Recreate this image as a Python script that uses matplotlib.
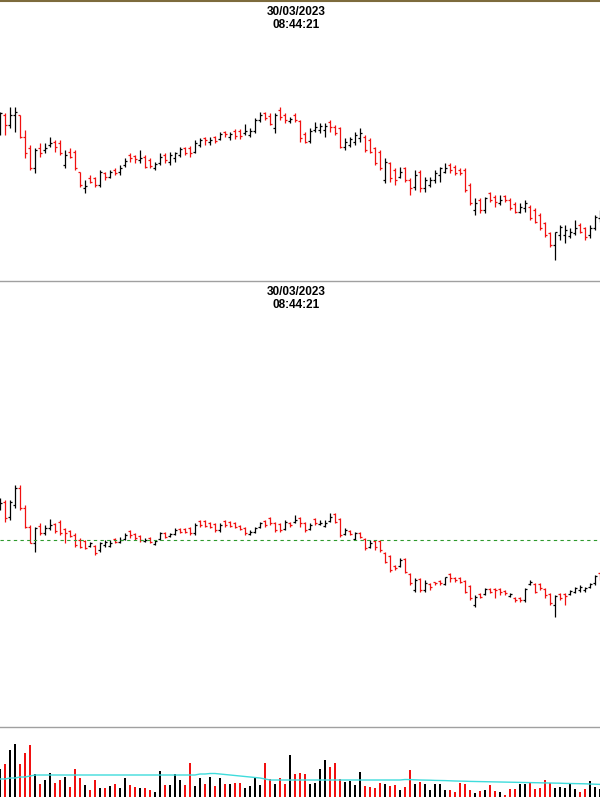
import matplotlib
matplotlib.use("Agg")
import matplotlib.pyplot as plt
import numpy as np

stamp = "30/03/2023\n08:44:21"

# upper chart (price units)
top_open = [170, 185, 175, 185, 185, 163, 152, 132, 152, 150, 155, 158, 157, 135, 148, 148, 128, 112, 122, 122,
            115, 127, 123, 130, 128, 135, 145, 144, 140, 143, 140, 132, 137, 145, 138, 142, 145, 152, 152, 148,
            155, 162, 158, 163, 161, 168, 163, 169, 169, 167, 165, 169, 180, 187, 184, 172, 190, 185, 179, 185,
            179, 166, 159, 170, 170, 170, 178, 173, 172, 153, 155, 158, 162, 163, 160, 152, 148, 120, 137, 130,
            123, 132, 120, 113, 128, 112, 115, 120, 125, 128, 135, 133, 130, 130, 115, 90, 100, 90, 107, 103,
            97, 104, 100, 96, 88, 92, 93, 90, 85, 77, 67, 55, 65, 65, 64, 67, 75, 72, 65, 72, 82]
top_high = [188, 187, 193, 193, 185, 170, 155, 152, 157, 157, 163, 160, 160, 150, 152, 150, 128, 120, 125, 123,
            130, 128, 130, 132, 135, 142, 147, 145, 150, 145, 142, 138, 147, 147, 148, 148, 153, 153, 154, 160,
            162, 163, 163, 164, 168, 169, 168, 171, 171, 176, 172, 182, 188, 188, 187, 187, 193, 187, 183, 187,
            180, 168, 172, 178, 177, 177, 180, 175, 173, 162, 163, 168, 172, 165, 162, 153, 150, 142, 138, 132,
            133, 133, 122, 130, 130, 123, 123, 130, 133, 137, 137, 135, 132, 132, 117, 102, 102, 103, 108, 105,
            105, 105, 102, 98, 97, 100, 95, 92, 87, 78, 68, 68, 75, 75, 72, 80, 77, 73, 75, 85, 90]
top_low = [165, 165, 172, 168, 162, 142, 130, 127, 143, 147, 153, 148, 145, 132, 142, 130, 113, 107, 117, 113,
           113, 120, 122, 125, 125, 133, 138, 137, 137, 132, 132, 130, 135, 137, 135, 138, 143, 145, 143, 147,
           153, 155, 155, 157, 160, 163, 160, 161, 161, 165, 163, 167, 178, 180, 175, 167, 180, 177, 177, 178,
           158, 157, 157, 168, 167, 163, 168, 165, 152, 150, 153, 155, 158, 148, 147, 135, 130, 117, 118, 115,
           122, 118, 105, 110, 108, 108, 113, 117, 118, 127, 127, 125, 125, 108, 95, 85, 87, 87, 98, 93,
           95, 98, 90, 87, 87, 88, 80, 77, 70, 63, 53, 40, 60, 57, 62, 65, 67, 60, 62, 70, 78]
top_close = [187, 175, 185, 188, 163, 147, 132, 150, 147, 152, 157, 153, 147, 145, 143, 132, 115, 114, 118, 115,
             128, 123, 128, 127, 132, 139, 142, 141, 142, 133, 134, 136, 143, 140, 145, 147, 151, 147, 147, 157,
             160, 160, 160, 159, 166, 166, 166, 164, 164, 169, 169, 180, 185, 182, 176, 185, 183, 180, 181, 180,
             162, 158, 169, 173, 174, 174, 173, 167, 153, 158, 161, 165, 167, 150, 148, 137, 132, 138, 122, 120,
             128, 120, 112, 125, 112, 120, 120, 127, 132, 132, 130, 127, 127, 110, 97, 97, 90, 102, 100, 98,
             100, 100, 92, 88, 93, 97, 82, 78, 72, 65, 55, 68, 73, 70, 68, 72, 68, 63, 72, 83, 88]

# lower chart
mid_open = [242, 248, 233, 245, 262, 242, 223, 207, 224, 217, 222, 226, 228, 221, 219, 215, 210, 209, 204, 204,
            200, 205, 204, 211, 208, 211, 219, 216, 214, 209, 212, 206, 211, 217, 214, 216, 221, 221, 222, 217,
            229, 229, 227, 226, 220, 229, 228, 227, 224, 222, 216, 218, 223, 229, 232, 227, 226, 221, 227, 228,
            232, 227, 221, 231, 226, 224, 229, 236, 231, 216, 219, 211, 217, 211, 203, 209, 209, 197, 194, 184,
            184, 191, 176, 160, 171, 160, 166, 168, 169, 166, 176, 172, 172, 169, 164, 145, 156, 156, 161, 161,
            161, 159, 154, 152, 152, 150, 166, 166, 166, 161, 156, 145, 156, 156, 156, 158, 160, 160, 163, 167, 177]
mid_high = [252, 250, 250, 265, 265, 245, 225, 223, 227, 225, 231, 227, 230, 222, 220, 217, 212, 210, 208, 205,
            208, 210, 210, 212, 213, 217, 220, 217, 215, 212, 213, 210, 218, 218, 217, 222, 222, 222, 223, 227,
            230, 230, 228, 227, 227, 230, 229, 228, 225, 223, 220, 223, 228, 230, 233, 228, 227, 230, 228, 235,
            233, 228, 227, 232, 230, 230, 237, 237, 232, 222, 220, 218, 218, 212, 210, 210, 210, 198, 195, 185,
            192, 192, 177, 172, 172, 170, 167, 168, 170, 173, 177, 173, 173, 170, 165, 155, 157, 162, 162, 162,
            162, 160, 157, 153, 153, 162, 170, 167, 167, 162, 157, 155, 157, 157, 160, 163, 165, 163, 167, 175, 178]
mid_low = [240, 228, 230, 242, 240, 222, 207, 198, 215, 215, 220, 217, 215, 207, 213, 203, 202, 201, 203, 195,
           198, 203, 203, 207, 207, 210, 212, 210, 208, 208, 207, 205, 210, 212, 213, 215, 217, 217, 215, 215,
           223, 223, 222, 218, 218, 223, 223, 222, 220, 215, 215, 217, 222, 223, 225, 218, 218, 220, 223, 227,
           223, 218, 220, 225, 225, 223, 228, 227, 213, 215, 215, 210, 212, 200, 202, 200, 198, 187, 178, 180,
           183, 177, 165, 158, 158, 158, 160, 165, 165, 165, 168, 168, 167, 157, 150, 143, 152, 155, 157, 152,
           155, 155, 153, 148, 148, 148, 165, 157, 160, 152, 145, 133, 150, 145, 155, 157, 158, 158, 162, 165, 170]
mid_close = [247, 232, 248, 262, 242, 223, 207, 222, 217, 222, 225, 219, 217, 217, 214, 205, 203, 202, 207, 197,
             207, 208, 207, 208, 210, 215, 215, 212, 210, 210, 208, 209, 217, 213, 216, 220, 218, 218, 217, 225,
             225, 224, 223, 220, 225, 225, 224, 223, 221, 217, 218, 222, 227, 225, 227, 220, 220, 228, 225, 230,
             227, 220, 225, 227, 227, 227, 233, 228, 215, 220, 216, 217, 213, 202, 207, 203, 200, 188, 180, 182,
             190, 178, 167, 170, 160, 167, 163, 167, 167, 173, 172, 170, 168, 158, 152, 153, 153, 161, 158, 160,
             158, 157, 156, 150, 150, 161, 168, 158, 162, 155, 147, 154, 152, 154, 159, 162, 163, 162, 166, 174, 174]
mid_level = 210

# volume pane
volume = [28, 33, 47, 53, 33, 44, 52, 23, 13, 17, 24, 14, 17, 20, 10, 28, 19, 12, 7, 17,
          9, 9, 11, 13, 9, 19, 12, 10, 9, 9, 7, 5, 26, 12, 12, 23, 17, 12, 34, 11,
          19, 13, 20, 11, 19, 13, 13, 14, 14, 9, 11, 19, 12, 34, 18, 13, 19, 13, 42, 23,
          24, 23, 13, 14, 28, 37, 30, 34, 18, 15, 16, 12, 25, 11, 10, 9, 14, 13, 11, 12,
          7, 10, 27, 13, 15, 13, 7, 13, 13, 7, 7, 5, 14, 13, 7, 4, 6, 7, 12, 6,
          5, 2, 8, 8, 13, 13, 15, 8, 9, 17, 14, 9, 10, 9, 14, 8, 5, 8, 16, 10, 8]
vol_avg = [18, 18, 19, 19, 20, 20, 21, 22, 22, 22, 22, 22, 22, 22, 22, 22, 22, 22, 22, 22,
           22, 22, 22, 22, 22, 22, 22, 22, 22, 22, 22, 22, 22, 22, 22, 22, 22, 22, 22, 22,
           23, 23, 23.5, 23.5, 23, 22.5, 22, 21.5, 21, 20.5, 20, 19.5, 19, 18, 17, 17, 17, 17, 17, 17,
           17, 17, 17, 17, 17, 17, 17, 17, 17, 17, 17, 17, 17, 17, 17, 17, 17, 17, 17, 17,
           17, 17.5, 17.4, 17.2, 17, 16.9, 16.8, 16.6, 16.5, 16.4, 16.2, 16, 15.9, 15.8, 15.6, 15.5, 15.4, 15.3, 15.2, 15.1,
           15, 14.9, 14.8, 14.7, 14.6, 14.5, 14.4, 14.3, 14.2, 14.1, 14, 13.9, 13.8, 13.6, 13.5, 13.4, 13.3, 13.2, 13, 12.8, 12.6]

RED = "#f01010"
BLACK = "#000000"
LW = 0.9


def draw_ohlc(ax, o, h, l, c):
    x = np.arange(len(c))
    o, h, l, c = map(np.asarray, (o, h, l, c))
    cols = [RED if cc < oo else BLACK for oo, cc in zip(o, c)]
    ax.vlines(x, l, h, colors=cols, linewidth=LW)
    ax.hlines(o, x - 0.32, x, colors=cols, linewidth=LW)
    ax.hlines(c, x, x + 0.32, colors=cols, linewidth=LW)


def clean(ax):
    ax.set_xlim(0, 120)
    ax.set_axis_off()


fig = plt.figure(figsize=(6, 8), dpi=100)
W, H = 600, 800

def frac(y0, y1):
    return [0, 1 - y1 / H, 1, (y1 - y0) / H]

ax1 = fig.add_axes(frac(0, 281))
draw_ohlc(ax1, top_open, top_high, top_low, top_close)
ax1.set_ylim(19, 300)
clean(ax1)

ax2 = fig.add_axes(frac(281, 727))
draw_ohlc(ax2, mid_open, mid_high, mid_low, mid_close)
ax2.axhline(mid_level, color="#2e9a2e", linewidth=0.8, dashes=(3, 3))
ax2.set_ylim(23, 469)
clean(ax2)

ax3 = fig.add_axes(frac(727, 800))
vcols = [RED if cc < oo else BLACK for oo, cc in zip(top_open, top_close)]
ax3.bar(np.arange(len(volume)), volume, width=0.5, color=vcols)
ax3.plot(np.arange(len(vol_avg)), vol_avg, color="#3fdcdc", linewidth=1.0)
ax3.set_ylim(-3, 70)
clean(ax3)

# pane separators and top border
for yy in (281, 727):
    fig.add_artist(plt.Line2D([0, 1], [1 - yy / H] * 2, color="#a0a0a0", linewidth=1.0))
fig.add_artist(plt.Line2D([0, 1], [1 - 0.8 / H] * 2, color="#7d6b3d", linewidth=1.5))

for yy in (18.5, 298.5):
    fig.text(296 / W, 1 - yy / H, stamp, ha="center", va="center", fontsize=8.5,
             fontweight="bold", family="Liberation Sans", linespacing=1.2)

fig.savefig("out.png", dpi=100, facecolor="white")
